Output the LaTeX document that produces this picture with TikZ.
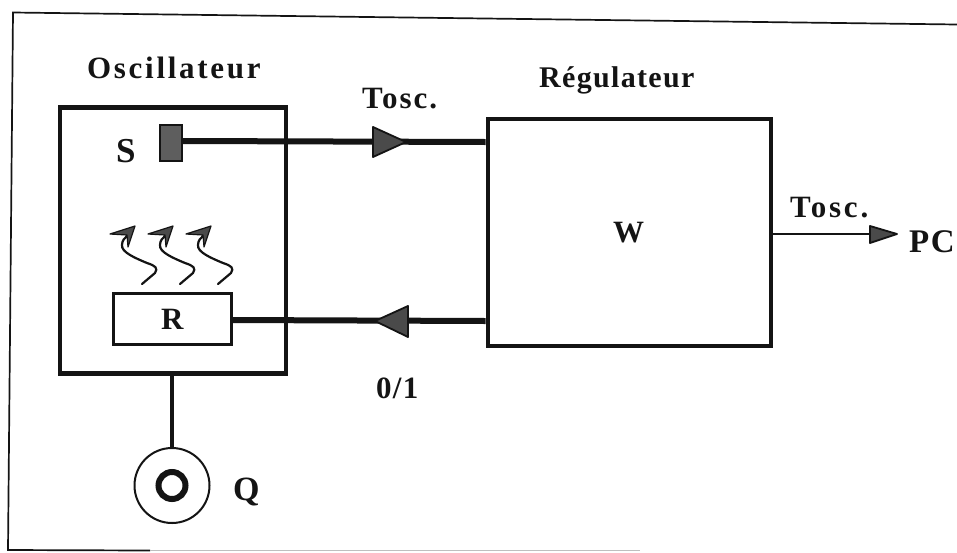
\documentclass[tikz,border=0pt]{standalone}
\usepackage{fontspec}
\setmainfont{Liberation Serif}
\usetikzlibrary{calc}
\definecolor{ink}{HTML}{141414}
\definecolor{headfill}{HTML}{4A4A4A}
\definecolor{sensor}{HTML}{5E5E5E}
\tikzset{
  x=1pt,y=-1pt,
  lab/.style={anchor=base west,inner sep=0pt,font=\fontsize{31}{34}\selectfont\bfseries,text=ink},
  box/.style={draw=ink,line width=4.6pt,fill=none,inner sep=0pt},
  pipe/.style={draw=ink,line width=6pt},
  head/.style={draw=ink,line width=1.8pt,fill=headfill,line join=round},
  wave/.style={draw=ink,line width=2.2pt,line cap=round},
}
\begin{document}
\begin{tikzpicture}
\useasboundingbox (0,0) rectangle (957,552);
\fill[white] (0,0) rectangle (957,552);
% outer frame
\draw[ink,line width=1.7pt] (957,24.5) -- (13,12.5) -- (8,550) -- (150,550.5);
\draw[black!25,line width=1.5pt] (150,550.5) -- (640,550.5);

% boxes
\node[box,minimum width=226pt,minimum height=266pt] (osc) at (173,240.5) {};
\node[box,minimum width=283pt,minimum height=227pt] (reg) at (629.5,232.5) {};
\node[draw=ink,line width=2.4pt,fill=sensor,minimum width=22pt,minimum height=36pt,inner sep=0pt] (s) at (171,143) {};
\node[draw=ink,line width=2.2pt,fill=white,minimum width=118pt,minimum height=51pt,inner sep=0pt] (r) at (172.5,319) {};
\node[draw=ink,line width=2pt,circle,minimum size=75pt,inner sep=0pt] (q) at (172,485.5) {};
\node[draw=ink,line width=6pt,circle,minimum size=27pt,inner sep=0pt] (qi) at (172,485.5) {};

% connectors
\coordinate (sout) at (s.east |- 0,141);
\coordinate (regin) at (reg.west |- 0,142);
\coordinate (regout) at (reg.west |- 0,321);
\coordinate (rin) at (r.east |- 0,320);
\coordinate (pcpt) at (897,234);
\coordinate (regr) at (reg.east |- pcpt);
\draw[pipe] (sout) -- (regin);
\draw[pipe] (regout) -- (rin);
\draw[draw=ink,line width=2.4pt] (regr) -- (pcpt);
\draw[draw=ink,line width=3.4pt] (osc.south -| q.north) -- (q.north);

% arrowheads
\path[head] (373,127) -- (406,142) -- (373,157) -- cycle;
\path[head] (408,306) -- (375,321) -- (408,337) -- cycle;
\path[head] (870,226) -- (897,234) -- (870,243) -- cycle;

% heat waves
\foreach \d in {0,38,76}{
  \begin{scope}[xshift=\d pt]
    \draw[wave] (142,284) -- (155,273) .. controls (158,268) and (156,266) .. (147,263)
      .. controls (135,258) and (121,252) .. (122,245) .. controls (122,240) and (125,238) .. (127,236);
    \path[draw=ink,line width=1.2pt,fill=headfill,line join=round] (110,234) -- (135,226) -- (128,247) -- (127,235) -- cycle;
  \end{scope}
}

% labels
\node[lab] (t1) at (87,78) {\addfontfeature{LetterSpace=8.7}Oscillateur};
\node[lab,font=\fontsize{30}{34}\selectfont\bfseries] (t2) at (539,87) {\addfontfeature{LetterSpace=4.4}Régulateur};
\node[lab] (t3) at (362,108) {\addfontfeature{LetterSpace=6.5}Tosc.};
\node[lab] (t4) at (790,217) {\addfontfeature{LetterSpace=9}Tosc.};
\node[lab,font=\fontsize{33}{36}\selectfont\bfseries] (t5) at (909,252) {\addfontfeature{LetterSpace=5}PC};
\node[lab] (t6) at (376,398) {\addfontfeature{LetterSpace=4}0/1};
\node[lab,font=\fontsize{35}{38}\selectfont\bfseries] (t7) at (116,162) {S};
\node[lab] (t8) at (161,329) {R};
\node[lab] (t9) at (613,242) {W};
\node[lab,font=\fontsize{34}{38}\selectfont\bfseries] (t10) at (233,500) {Q};
\end{tikzpicture}
\end{document}
